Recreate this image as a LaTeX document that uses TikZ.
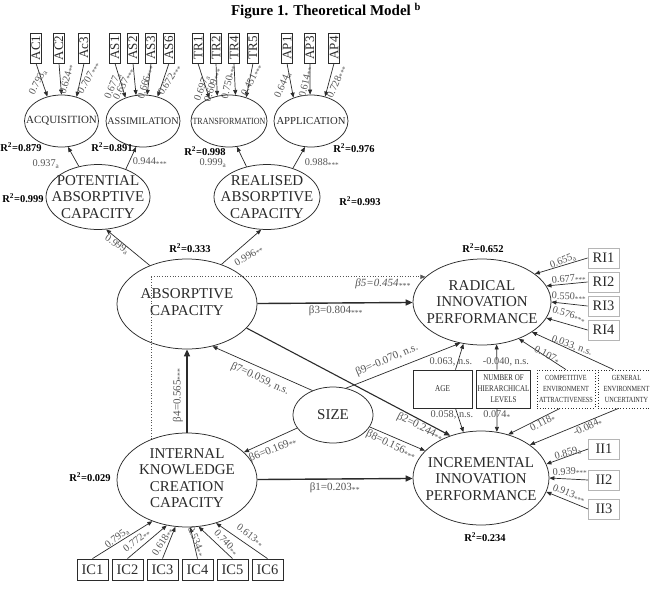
\documentclass[tikz,border=0pt]{standalone}
\usepackage{fontspec}
\setmainfont{Liberation Serif}
\newfontfamily\condfont{Liberation Serif}[FakeStretch=0.8]
\newfontfamily\narrowfont{Liberation Serif}[FakeStretch=0.85]
\usetikzlibrary{shapes.geometric,arrows.meta}
\definecolor{ink}{HTML}{2B2B2B}
\definecolor{lab}{HTML}{555555}
\definecolor{boxg}{HTML}{B5B5B5}
\newcommand\pv[1]{\textsubscript{#1}}
\tikzset{
  ell/.style={draw=ink, ellipse, inner sep=0pt, line width=0.75pt},
  etxt/.style={align=center, text=ink, font=\fontsize{15}{16.5}\selectfont, inner sep=0pt},
  ind/.style={draw=ink, line width=0.8pt, minimum width=11pt, minimum height=30pt, inner sep=0pt, font=\fontsize{13}{13}\selectfont, text=ink},
  icb/.style={draw=ink, line width=0.8pt, minimum width=31pt, minimum height=21pt, inner sep=0pt, font=\fontsize{14.5}{14.5}\selectfont, text=ink},
  rib/.style={draw=boxg, line width=0.8pt, minimum width=31pt, minimum height=20pt, inner sep=0pt, font=\fontsize{14.5}{14.5}\selectfont, text=ink},
  ctrl/.style={draw=ink, line width=0.8pt, minimum height=38pt, inner sep=1pt, align=center, font=\condfont\fontsize{8.7}{11}\selectfont, text=ink},
  ctrld/.style={draw=ink, dotted, line width=0.8pt, minimum height=38pt, inner sep=1pt, align=center, font=\condfont\fontsize{7.8}{11}\selectfont, text=ink},
  arr/.style={draw=ink, line width=0.7pt, -{Triangle[length=5pt,width=4pt]}},
  thk/.style={draw=ink, line width=1.4pt, -{Triangle[length=7pt,width=6pt]}},
  lbl/.style={text=lab, font=\fontsize{10.3}{10.3}\selectfont, inner sep=0pt},
  plbl/.style={text=lab, font=\fontsize{11}{11}\selectfont, inner sep=0pt},
  rsq/.style={text=black, font=\bfseries\fontsize{10.5}{10.5}\selectfont, inner sep=0pt},
}
\begin{document}
\begin{tikzpicture}[x=1pt,y=-1pt]
\fill[white] (0,0) rectangle (651,589);
\useasboundingbox (0,0) rectangle (651,589);

\node[font=\bfseries\fontsize{15}{15}\selectfont] (title) at (326,11) {Figure 1. Theoretical Model \textsuperscript{b}};

% top indicators
\foreach \n/\x/\t in {ac1/36/AC1, ac2/59/AC2, ac3/84/Ac3, as1/115/AS1, as2/133/AS2, as3/151/AS3, as6/169/AS6, tr1/198/TR1, tr2/216/TR2, tr4/234/TR4, tr5/253/TR5, ap1/287/AP1, ap3/310/AP3, ap4/334/AP4}
  \node[ind] (\n) at (\x,48) {\rotatebox{90}{\t}};

% first order ellipses
\node[ell, minimum width=74pt, minimum height=52pt] (acq) at (61.5,121) {};
\node[etxt, font=\fontsize{11}{11}\selectfont] (acqt) at (acq) {ACQUISITION};
\node[ell, minimum width=74pt, minimum height=52pt] (asm) at (143,121) {};
\node[etxt, font=\fontsize{10.2}{11}\selectfont] (asmt) at (asm) {ASSIMILATION};
\node[ell, minimum width=76pt, minimum height=52pt] (trf) at (229,121) {};
\node[etxt, font=\narrowfont\fontsize{9.4}{10}\selectfont] (trft) at (trf) {TRANSFORMATION};
\node[ell, minimum width=74pt, minimum height=52pt] (app) at (311,121) {};
\node[etxt, font=\fontsize{10.7}{11}\selectfont] (appt) at (app) {APPLICATION};

% second order
\node[ell, minimum width=104pt, minimum height=65pt] (pot) at (98,197) {};
\node[etxt] (pott) at (pot) {POTENTIAL\\ABSORPTIVE\\CAPACITY};
\node[ell, minimum width=106pt, minimum height=65pt] (rea) at (267,197) {};
\node[etxt] (reat) at (rea) {REALISED\\ABSORPTIVE\\CAPACITY};

\node[ell, minimum width=140pt, minimum height=90pt] (abs) at (187,304) {};
\node[etxt] (abst) at (187,302) {ABSORPTIVE\\CAPACITY};

\node[ell, minimum width=138pt, minimum height=86pt] (rad) at (482,302) {};
\node[etxt] (radt) at (rad) {RADICAL\\INNOVATION\\PERFORMANCE};

\node[ell, minimum width=136pt, minimum height=94pt] (inc) at (481,478) {};
\node[etxt] (inct) at (481,479) {INCREMENTAL\\INNOVATION\\PERFORMANCE};

\node[ell, minimum width=140pt, minimum height=94pt] (int) at (187,480) {};
\node[etxt] (intt) at (187,478) {INTERNAL\\KNOWLEDGE\\CREATION\\CAPACITY};

\node[ell, minimum width=80pt, minimum height=56pt] (size) at (333,415) {};
\node[etxt] (sizet) at (size) {SIZE};

% right indicators
\foreach \n/\y/\t in {ri1/258/RI1, ri2/282/RI2, ri3/306/RI3, ri4/330/RI4}
  \node[rib] (\n) at (603.5,\y) {\t};
\foreach \n/\y/\t in {ii1/449/II1, ii2/480/II2, ii3/509/II3}
  \node[rib] (\n) at (604,\y) {\t};

% bottom indicators
\foreach \n/\x/\t in {ic1/92.5/IC1, ic2/127.5/IC2, ic3/162.5/IC3, ic4/197.5/IC4, ic5/232.5/IC5, ic6/267.5/IC6}
  \node[icb] (\n) at (\x,569.5) {\t};

% control boxes
\node[ctrl, minimum width=59pt, font=\condfont\fontsize{9}{11}\selectfont] (age) at (442.5,389) {AGE};
\node[ctrl, minimum width=53pt] (num) at (503.5,389) {NUMBER OF\\HIERARCHICAL\\LEVELS};
\node[ctrld, minimum width=58pt] (comp) at (566,389) {COMPETITIVE\\ENVIRONMENT\\ATTRACTIVENESS};
\node[ctrld, minimum width=57pt] (gen) at (626.5,389) {GENERAL\\ENVIRONMENT\\UNCERTAINTY};

% indicator arrows
\foreach \b/\e/\a in {ac1/acq/120, ac2/acq/90, ac3/acq/58, as1/asm/127, as2/asm/105, as3/asm/81, as6/asm/59, tr1/trf/131, tr2/trf/115, tr4/trf/76, tr5/trf/54, ap1/app/127, ap3/app/92, ap4/app/60}
  \draw[arr] (\b.south) -- (\e.\a);
\foreach \b/\a in {ic1/-130, ic2/-114, ic3/-104, ic4/-86, ic5/-76, ic6/-56}
  \draw[arr] (\b.north) -- (int.\a);
\foreach \b/\a in {ri1/28, ri2/14, ri3/0, ri4/-14}
  \draw[arr] (\b.west) -- (rad.\a);
\foreach \b/\a in {ii1/12, ii2/0, ii3/-12}
  \draw[arr] (\b.west) -- (inc.\a);

% second order arrows
\draw[arr] (pot.122) -- (acq.-76);
\draw[arr] (pot.45) -- (asm.-105);
\draw[arr] (rea.124) -- (trf.-73);
\draw[arr] (rea.48) -- (app.-103);
\draw[arr] (abs.134) -- (pot.-76);
\draw[arr] (abs.49) -- (rea.-100);

% structural paths
\draw[thk] (abs) -- (rad);
\draw[thk] (int) -- (inc);
\draw[thk] (int) -- (abs);
\draw[draw=ink, line width=1.1pt, -{Triangle[length=6pt,width=5pt]}] (abs.-22) -- (inc.126);
\draw[arr] (size.130) -- (abs.-59);
\draw[arr] (size.64) -- (rad.-118);
\draw[arr] (size.200) -- (int.26);
\draw[arr] (size.-18) -- (inc.154);
\draw[arr, dotted, draw=lab] (int.131) |- (rad.156);

% controls
\draw[arr] ([xshift=13pt]age.north) -- (rad.-114);
\draw[arr] ([xshift=-6.5pt]num.north) -- (rad.-71);
\draw[arr] (comp.north) -- (rad.-45);
\draw[arr] ([xshift=-13pt]gen.north) -- (rad.-31);
\draw[arr] ([xshift=13pt]age.south) -- (inc.111);
\draw[arr] ([xshift=-6.5pt]num.south) -- (inc.71);
\draw[arr] ([xshift=-6pt]comp.south) -- (inc.58);
\draw[arr] ([xshift=-8pt]gen.south) -- (inc.34);

% loading labels
\foreach \x/\y/\r/\t [count=\i] in {
  38/82/62/{0.793\pv{a}}, 67/79/75/{0.624\pv{**}}, 89/78/60/{0.707\pv{***}},
  113/86/67/{0.677\pv{a}}, 124/84/62/{0.637\pv{***}}, 146/82/73/{0.666\pv{***}}, 170/80/57/{0.672\pv{***}},
  202/88/70/{0.697\pv{a}}, 213/85/72/{0.609\pv{***}}, 229/82/77/{0.750\pv{***}}, 252/80/62/{0.451\pv{***}},
  283/85/66/{0.644\pv{a}}, 306/82/77/{0.614\pv{**}}, 337/82/66/{0.728\pv{***}},
  117/538/37/{0.795\pv{a}}, 137/541/38/{0.772\pv{**}}, 163/542/58/{0.618\pv{**}},
  196/542/-67/{0.534\pv{**}}, 226/543/-47/{0.740\pv{**}}, 250/536/-37/{0.613\pv{**}},
  563/261/20/{0.655\pv{a}}, 569/279/5/{0.677\pv{***}}, 569/297/-3/{0.550\pv{***}}, 569/315/-18/{0.576\pv{***}},
  572/346/-20/{0.033, n.s.}, 547/355/-27/{0.107\pv{*}},
  451/362/0/{0.063, n.s.}, 506/362/0/{-0.040, n.s.},
  452/415/0/{0.058, n.s.}, 497/415/0/{0.074\pv{*}},
  543/423/27/{0.118\pv{*}}, 588/427/24/{-0.084\pv{*}},
  568/453/15/{0.859\pv{a}}, 570/472/3/{0.939\pv{***}}, 569/494/-22/{0.913\pv{***}},
  46/164/0/{0.937\pv{a}}, 150/162/0/{0.944\pv{***}}, 213/163/0/{0.999\pv{a}}, 322/163/0/{0.988\pv{***}},
  117/245/-33/{0.999\pv{a}}, 249/256/30/{0.996\pv{**}}}
  \node[lbl, rotate=\r] (ld\i) at (\x,\y) {\t};

% path labels
\node[plbl] (b3) at (336,311) {β3=0.804\pv{***}};
\node[plbl, font=\itshape\fontsize{11}{11}\selectfont] (b5) at (383,284) {β5=0.454\pv{***}};
\node[plbl] (b1) at (335,488) {β1=0.203\pv{**}};
\node[plbl, rotate=90] (b4) at (178,395) {β4=0.565\pv{***}};
\node[plbl, rotate=-25] (b7) at (260,379) {β7=0.059, n.s.};
\node[plbl, rotate=22] (b6) at (273,450) {β6=0.169\pv{**}};
\node[plbl, rotate=-26] (b8) at (391,445) {β8=0.156\pv{***}};
\node[plbl, rotate=-27] (b2) at (420,427) {β2=0.244\pv{**}};
\node[plbl, rotate=23] (b9) at (387,360) {β9=-0.070, n.s.};

% R squared
\node[rsq] (r1) at (21,147) {R\textsuperscript{2}=0.879};
\node[rsq] (r2) at (112,147) {R\textsuperscript{2}=0.891};
\node[rsq] (r3) at (205,151) {R\textsuperscript{2}=0.998};
\node[rsq] (r4) at (354,148) {R\textsuperscript{2}=0.976};
\node[rsq] (r5) at (23,198) {R\textsuperscript{2}=0.999};
\node[rsq] (r6) at (360,201) {R\textsuperscript{2}=0.993};
\node[rsq] (r7) at (190,248) {R\textsuperscript{2}=0.333};
\node[rsq] (r8) at (483,248) {R\textsuperscript{2}=0.652};
\node[rsq] (r9) at (90,477) {R\textsuperscript{2}=0.029};
\node[rsq] (r10) at (485,537) {R\textsuperscript{2}=0.234};
\end{tikzpicture}
\end{document}
